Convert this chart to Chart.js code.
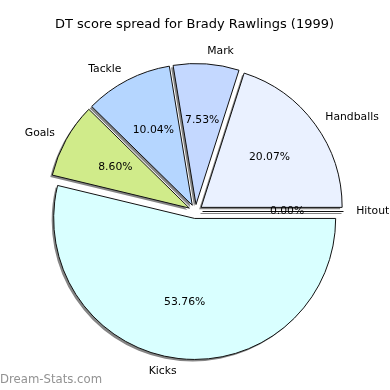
<!DOCTYPE html>
<html>
<head>
<meta charset="utf-8">
<script src="https://cdn.jsdelivr.net/npm/chart.js@4"></script>
<style>
  body { margin: 0; background: #fff; }
  #wrap { width: 390px; height: 390px; }
</style>
</head>
<body>
<div id="wrap"><canvas id="pie" width="390" height="390"></canvas></div>
<script>
// slices in clockwise order starting at 3 o'clock
var sliceLabels = ['Kicks', 'Goals', 'Tackle', 'Mark', 'Handballs', 'Hitout'];
var slicePercents = [53.76, 8.60, 10.04, 7.53, 20.07, 0.00];
var sliceColors = ['#d9ffff', '#d0eb8a', '#b5d6ff', '#c4d8ff', '#eaf1ff', '#e8f0ff'];
var chartTitle = 'DT score spread for Brady Rawlings (1999)';
var watermark = 'Dream-Stats.com';

var explodePx = 7;
var shadowDx = -2, shadowDy = 2;
var labelFont = '10.8px "DejaVu Sans"';

/**
 * Draw exploded wedges with a gray drop shadow under all of them.
 */
var explodedPie = {
    id: 'explodedPie',
    beforeDatasetDraw: function (chart, args) {
        var ctx = chart.ctx;
        var arcs = args.meta.data;
        // shadows first, under every wedge
        arcs.forEach(function (el) {
            var mid = (el.startAngle + el.endAngle) / 2;
            ctx.save();
            ctx.translate(Math.cos(mid) * explodePx + shadowDx, Math.sin(mid) * explodePx + shadowDy);
            ctx.beginPath();
            if (el.endAngle - el.startAngle <= 0) {
                ctx.moveTo(el.x, el.y);
                ctx.lineTo(el.x + Math.cos(mid) * el.outerRadius, el.y + Math.sin(mid) * el.outerRadius);
                ctx.strokeStyle = '#858585';
                ctx.lineWidth = 1.2;
                ctx.stroke();
            } else {
                ctx.moveTo(el.x, el.y);
                ctx.arc(el.x, el.y, el.outerRadius, el.startAngle, el.endAngle);
                ctx.closePath();
                ctx.fillStyle = '#858585';
                ctx.fill();
            }
            ctx.restore();
        });
        arcs.forEach(function (el) {
            var mid = (el.startAngle + el.endAngle) / 2;
            ctx.save();
            ctx.translate(Math.cos(mid) * explodePx, Math.sin(mid) * explodePx);
            if (el.endAngle - el.startAngle <= 0) {
                ctx.beginPath();
                ctx.moveTo(el.x, el.y);
                ctx.lineTo(el.x + Math.cos(mid) * el.outerRadius, el.y + Math.sin(mid) * el.outerRadius);
                ctx.strokeStyle = '#111';
                ctx.lineWidth = 1;
                ctx.stroke();
            } else {
                el.draw(ctx);
            }
            ctx.restore();
        });
        return false;
    },
    afterDraw: function (chart) {
        var ctx = chart.ctx;
        var arcs = chart.getDatasetMeta(0).data;
        ctx.save();
        ctx.fillStyle = '#000';
        ctx.font = labelFont;
        ctx.textBaseline = 'middle';
        arcs.forEach(function (el, i) {
            var mid = (el.startAngle + el.endAngle) / 2;
            var cx = el.x + Math.cos(mid) * explodePx;
            var cy = el.y + Math.sin(mid) * explodePx;
            var r = el.outerRadius;
            // name outside
            var lx = cx + Math.cos(mid) * r * 1.09;
            var ly = cy + Math.sin(mid) * r * 1.09;
            ctx.textAlign = Math.cos(mid) > 0 ? 'left' : 'right';
            ctx.fillText(sliceLabels[i], lx, ly);
            // percent inside
            ctx.textAlign = 'center';
            ctx.fillText(slicePercents[i].toFixed(2) + '%',
                cx + Math.cos(mid) * r * 0.6, cy + Math.sin(mid) * r * 0.6);
        });
        ctx.font = '13px "DejaVu Sans"';
        ctx.textAlign = 'center';
        ctx.fillText(chartTitle, 194.5, 25);
        ctx.font = '11.7px "DejaVu Sans"';
        ctx.textAlign = 'left';
        ctx.fillStyle = '#929292';
        ctx.fillText(watermark, 0, 380);
        ctx.restore();
    }
};

var ctxP = document.getElementById('pie').getContext('2d');
new Chart(ctxP, {
    type: 'pie',
    data: {
        labels: sliceLabels,
        datasets: [{
            data: slicePercents,
            backgroundColor: sliceColors,
            borderColor: '#111',
            borderWidth: 1,
            borderJoinStyle: 'miter',
            offset: 0
        }]
    },
    options: {
        responsive: false,
        animation: false,
        events: [],
        rotation: 90,
        layout: { padding: { left: 54, right: 53, top: 70, bottom: 37 } },
        plugins: {
            legend: { display: false },
            title: { display: false },
            tooltip: { enabled: false }
        }
    },
    plugins: [explodedPie]
});
</script>
</body>
</html>
